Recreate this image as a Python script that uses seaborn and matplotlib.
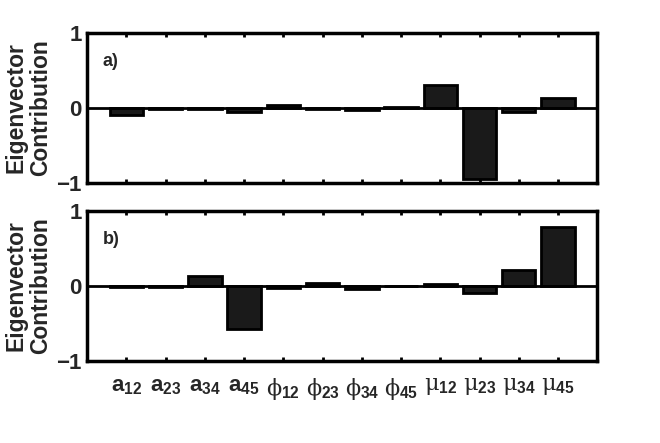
import numpy as np
import seaborn as sns
import matplotlib
matplotlib.use("Agg")
import matplotlib.pyplot as plt

sns.set_theme(style="white")
plt.rcParams["font.family"] = ["Liberation Sans", "DejaVu Sans"]
plt.rcParams["font.weight"] = "bold"
plt.rcParams["mathtext.fontset"] = "custom"
plt.rcParams["mathtext.rm"] = "DejaVu Serif:normal"
plt.rcParams["mathtext.it"] = "DejaVu Serif:normal"
plt.rcParams["mathtext.bf"] = "Liberation Sans:bold"

# parameter names and eigenvector values
params = ["a12", "a23", "a34", "a45", "phi12", "phi23", "phi34", "phi45",
          "mu12", "mu23", "mu34", "mu45"]
tick_labels = [r"$\mathbf{a_{12}}$", r"$\mathbf{a_{23}}$", r"$\mathbf{a_{34}}$", r"$\mathbf{a_{45}}$",
               r"$\phi_{\mathbf{12}}$", r"$\phi_{\mathbf{23}}$", r"$\phi_{\mathbf{34}}$", r"$\phi_{\mathbf{45}}$",
               r"$\mu_{\mathbf{12}}$", r"$\mu_{\mathbf{23}}$", r"$\mu_{\mathbf{34}}$", r"$\mu_{\mathbf{45}}$"]
vec_a = [-0.10, -0.02, -0.02, -0.06, 0.04, -0.01, -0.03, 0.01, 0.30, -0.95, -0.05, 0.13]
vec_b = [-0.02, -0.02, 0.13, -0.57, -0.03, 0.04, -0.04, 0.005, 0.02, -0.10, 0.21, 0.78]
panel_tags = ["a)", "b)"]

fig = plt.figure(figsize=(6.6, 4.43), dpi=100)
ax1 = fig.add_axes([0.132, 0.587, 0.773, 0.339])
ax2 = fig.add_axes([0.132, 0.185, 0.773, 0.339])

for ax, vals, tag in zip([ax1, ax2], [vec_a, vec_b], panel_tags):
    sns.barplot(x=params, y=vals, order=params, color="#1a1a1a", saturation=1,
                edgecolor="black", linewidth=2, width=0.85, ax=ax)
    ax.axhline(0, color="black", lw=2, zorder=5)
    ax.set_xlim(-1, 12)
    ax.set_ylim(-1, 1)
    ax.set_yticks([-1, 0, 1])
    ax.set_yticklabels(["\u22121", "0", "1"], fontsize=16, fontweight="bold")
    ax.set_xticks(range(12))
    ax.tick_params(axis="x", direction="in", length=3, width=2, top=True, bottom=True, color="black")
    ax.tick_params(axis="y", length=0, pad=4)
    for s in ax.spines.values():
        s.set_linewidth(2.5)
        s.set_color("black")
    ax.set_ylabel("Eigenvector\nContribution", fontsize=16.5, fontweight="bold", labelpad=3,
                  linespacing=1.1)
    ax.text(0.03, 0.81, tag, transform=ax.transAxes, fontsize=13, fontweight="bold", va="center")

ax1.set_xticklabels([])
ax1.set_xlabel("")
ax2.set_xticklabels(tick_labels, fontsize=16)
ax2.tick_params(axis="x", pad=11)
ax2.set_xlabel("")

fig.savefig("out.png", dpi=100)
